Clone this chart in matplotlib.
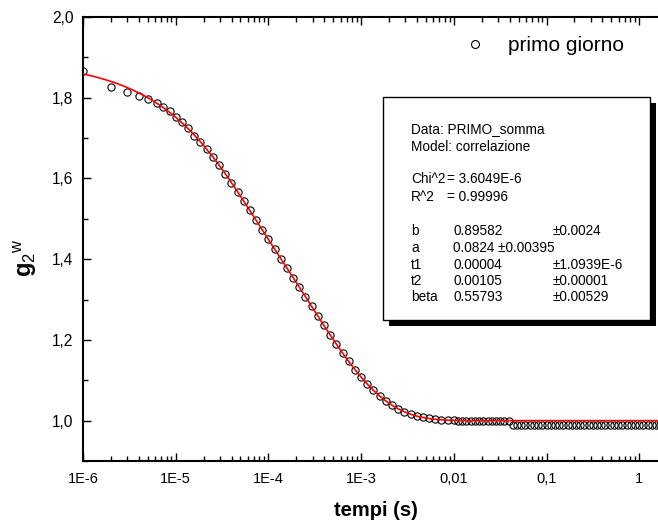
import matplotlib
matplotlib.use("Agg")
import matplotlib.pyplot as plt
from matplotlib.patches import Rectangle
from matplotlib.ticker import FixedLocator, FixedFormatter, LogLocator, MultipleLocator, FuncFormatter

plt.rcParams['font.family'] = ['Liberation Sans', 'DejaVu Sans']
plt.rcParams['mathtext.fontset'] = 'custom'
plt.rcParams['mathtext.rm'] = 'Liberation Sans'
plt.rcParams['mathtext.bf'] = 'Liberation Sans:bold'
plt.rcParams['mathtext.it'] = 'Liberation Sans:italic'

# ---------------- data ----------------
data_t = [1.0e-6, 2.0e-6, 3.0e-6, 4.0e-6, 5.0e-6,
          6.310e-6, 7.356e-6, 8.577e-6,
          1.000e-5, 1.166e-5, 1.359e-5, 1.585e-5, 1.848e-5, 2.154e-5, 2.512e-5, 2.929e-5,
          3.415e-5, 3.981e-5, 4.642e-5, 5.412e-5, 6.310e-5, 7.356e-5, 8.577e-5,
          1.000e-4, 1.166e-4, 1.359e-4, 1.585e-4, 1.848e-4, 2.154e-4, 2.512e-4, 2.929e-4,
          3.415e-4, 3.981e-4, 4.642e-4, 5.412e-4, 6.310e-4, 7.356e-4, 8.577e-4,
          1.000e-3, 1.166e-3, 1.359e-3, 1.585e-3, 1.848e-3, 2.154e-3, 2.512e-3, 2.929e-3,
          3.415e-3, 3.981e-3, 4.642e-3, 5.412e-3, 6.310e-3, 7.356e-3, 8.577e-3,
          1.000e-2, 1.110e-2, 1.233e-2, 1.369e-2, 1.520e-2, 1.688e-2, 1.874e-2, 2.081e-2,
          2.310e-2, 2.565e-2, 2.848e-2, 3.162e-2, 3.511e-2, 3.899e-2,
          4.329e-2, 4.806e-2, 5.337e-2, 5.926e-2, 6.579e-2, 7.305e-2, 8.111e-2, 9.006e-2,
          0.1000, 0.1110, 0.1233, 0.1369, 0.1520, 0.1688, 0.1874, 0.2081, 0.2310, 0.2565,
          0.2848, 0.3162, 0.3511, 0.3899, 0.4329, 0.4806, 0.5337, 0.5926, 0.6579, 0.7305,
          0.8111, 0.9006, 1.000, 1.110, 1.233, 1.369, 1.520, 1.688]
data_g = [1.867, 1.827, 1.814, 1.804, 1.796,
          1.788, 1.777, 1.766,
          1.753, 1.739, 1.724, 1.706, 1.690, 1.672, 1.653, 1.634,
          1.612, 1.589, 1.567, 1.544, 1.521, 1.496, 1.472,
          1.449, 1.425, 1.401, 1.378, 1.354, 1.331, 1.306, 1.283,
          1.259, 1.236, 1.212, 1.190, 1.167, 1.147, 1.126,
          1.108, 1.091, 1.075, 1.061, 1.049, 1.039, 1.030, 1.022,
          1.017, 1.012, 1.009, 1.006, 1.004, 1.002, 1.001,
          1.001, 1.000, 1.000, 1.000, 1.000, 1.000, 1.000, 1.000,
          1.000, 1.000, 1.000, 1.000, 1.000, 1.000,
          0.989, 0.989, 0.989, 0.989, 0.989, 0.989, 0.989, 0.989,
          0.989, 0.989, 0.989, 0.989, 0.989, 0.989, 0.989, 0.989, 0.989, 0.989,
          0.989, 0.989, 0.989, 0.989, 0.989, 0.989, 0.989, 0.989, 0.989, 0.989,
          0.989, 0.989, 0.989, 0.989, 0.989, 0.989, 0.989, 0.989]

fit_t = [1.000e-6, 1.166e-6, 1.359e-6, 1.585e-6, 1.848e-6, 2.154e-6, 2.512e-6, 2.929e-6,
         3.415e-6, 3.981e-6, 4.642e-6, 5.412e-6, 6.310e-6, 7.356e-6, 8.577e-6,
         1.000e-5, 1.166e-5, 1.359e-5, 1.585e-5, 1.848e-5, 2.154e-5, 2.512e-5, 2.929e-5,
         3.415e-5, 3.981e-5, 4.642e-5, 5.412e-5, 6.310e-5, 7.356e-5, 8.577e-5,
         1.000e-4, 1.166e-4, 1.359e-4, 1.585e-4, 1.848e-4, 2.154e-4, 2.512e-4, 2.929e-4,
         3.415e-4, 3.981e-4, 4.642e-4, 5.412e-4, 6.310e-4, 7.356e-4, 8.577e-4,
         1.000e-3, 1.166e-3, 1.359e-3, 1.585e-3, 1.848e-3, 2.154e-3, 2.512e-3, 2.929e-3,
         3.415e-3, 3.981e-3, 4.642e-3, 5.412e-3, 6.310e-3, 7.356e-3, 8.577e-3,
         1.000e-2, 1.166e-2, 1.359e-2, 1.585e-2, 0.1, 2.0]
fit_g = [1.8590, 1.8555, 1.8517, 1.8475, 1.8429, 1.8379, 1.8323, 1.8262, 1.8195, 1.8122,
         1.8042, 1.7954, 1.7858, 1.7753, 1.7639, 1.7515, 1.7380, 1.7234, 1.7076, 1.6907,
         1.6727, 1.6535, 1.6333, 1.6121, 1.5900, 1.5673, 1.5440, 1.5203, 1.4965, 1.4726,
         1.4488, 1.4250, 1.4014, 1.3778, 1.3542, 1.3305, 1.3068, 1.2829, 1.2592, 1.2355,
         1.2123, 1.1895, 1.1675, 1.1464, 1.1264, 1.1078, 1.0906, 1.0749, 1.0609, 1.0487,
         1.0381, 1.0292, 1.0218, 1.0159, 1.0112, 1.0077, 1.0051, 1.0033, 1.0020, 1.0012,
         1.0007, 1.0004, 1.0002, 1.0001, 1.0000, 1.0000]

x_ticks = [1e-6, 1e-5, 1e-4, 1e-3, 1e-2, 1e-1, 1]
x_ticklabels = ['1E-6', '1E-5', '1E-4', '1E-3', '0,01', '0,1', '1']
y_ticks = [1.0, 1.2, 1.4, 1.6, 1.8, 2.0]

legend_label = 'primo giorno'
box_lines = [
    ('Data: PRIMO_somma', None, None),
    ('Model: correlazione', None, None),
    ('Chi^2', '= 3.6049E-6', None),
    ('R^2', '= 0.99996', None),
    ('b', '0.89582', '\u00b10.0024'),
    ('a', '0.0824 \u00b10.00395', None),
    ('t1', '0.00004', '\u00b11.0939E-6'),
    ('t2', '0.00105', '\u00b10.00001'),
    ('beta', '0.55793', '\u00b10.00529'),
]

# ---------------- figure ----------------
W, H = 658, 529
fig = plt.figure(figsize=(W / 100, H / 100), dpi=100)

def fx(px):
    return px / W

def fy(py):
    return 1 - py / H

ax_left, ax_right, ax_top, ax_bottom = 83, 670, 17, 461
ax = fig.add_axes([fx(ax_left), fy(ax_bottom), (ax_right - ax_left) / W, (ax_bottom - ax_top) / H])

ax.plot(data_t, data_g, linestyle='none', marker='o', markersize=5.2,
        markerfacecolor='none', markeredgecolor='black', markeredgewidth=0.8,
        label=legend_label, zorder=2)
ax.plot(fit_t, fit_g, color='red', linewidth=1.2, zorder=3)

ax.set_xscale('log')
ax.set_xlim(1e-6, 10 ** ((ax_right - ax_left) / 92.7 - 6))
ax.set_ylim(0.9, 2.0)

ax.xaxis.set_major_locator(FixedLocator(x_ticks))
ax.xaxis.set_major_formatter(FixedFormatter(x_ticklabels))
ax.xaxis.set_minor_locator(LogLocator(base=10, subs=[2, 3, 4, 5, 6, 7, 8, 9], numticks=20))
ax.xaxis.set_minor_formatter(FuncFormatter(lambda v, p: ''))
ax.yaxis.set_major_locator(FixedLocator(y_ticks))
ax.yaxis.set_major_formatter(FuncFormatter(lambda v, p: f'{v:.1f}'.replace('.', ',')))
ax.yaxis.set_minor_locator(MultipleLocator(0.1))

for s in ax.spines.values():
    s.set_linewidth(1.5)

ax.tick_params(which='both', direction='in', top=True, right=True, width=1.0)
ax.tick_params(axis='x', labelsize=10.5)
ax.tick_params(axis='y', labelsize=11.2)
ax.tick_params(which='major', length=6)
ax.tick_params(which='minor', length=3.5)
ax.tick_params(axis='x', which='major', pad=8)
ax.tick_params(axis='y', which='major', pad=7)

ax.set_xlabel('tempi (s)', fontsize=14.5, fontweight='bold')
ax.xaxis.set_label_coords((376 - ax_left) / (ax_right - ax_left), -(510 - ax_bottom) / (ax_bottom - ax_top))
ax.xaxis.label.set_va('center')
ax.set_ylabel(r'$\mathbf{g}_{\mathrm{2}}{}^{\mathrm{w}}$', fontsize=17)
ax.yaxis.set_label_coords(-(ax_left - 25) / (ax_right - ax_left), (ax_bottom - 258) / (ax_bottom - ax_top))
ax.yaxis.label.set_va('center')

leg = ax.legend(loc='center left', bbox_to_anchor=(fx(464.6), fy(46)), bbox_transform=fig.transFigure,
                frameon=False, fontsize=15, handlelength=1.0, handletextpad=1.09,
                borderpad=0, borderaxespad=0, markerscale=1.1)

# ---------------- fit-result box ----------------
bx0, by0, bx1, by1 = 383, 97, 650, 320
sh = 6
fig.patches.append(Rectangle((fx(bx0 + sh), fy(by1 + sh)), (bx1 - bx0) / W, (by1 - by0) / H,
                             transform=fig.transFigure, facecolor='black', edgecolor='black',
                             linewidth=0, zorder=5))
fig.patches.append(Rectangle((fx(bx0), fy(by1)), (bx1 - bx0) / W, (by1 - by0) / H,
                             transform=fig.transFigure, facecolor='white', edgecolor='black',
                             linewidth=1.0, zorder=6))

line_y = [129, 147, 179, 197, 231, 248, 265, 281, 297]
col_x = [411, 453, 553]
for (c1, c2, c3), yy in zip(box_lines, line_y):
    fig.text(fx(col_x[0]), fy(yy), c1, fontsize=9.8, va='center', ha='left', zorder=7)
    if c2 is not None:
        x2 = 447 if c2.startswith('=') else col_x[1]
        fig.text(fx(x2), fy(yy), c2, fontsize=9.8, va='center', ha='left', zorder=7)
    if c3 is not None:
        fig.text(fx(col_x[2]), fy(yy), c3, fontsize=9.8, va='center', ha='left', zorder=7)

fig.savefig('out.png', dpi=100)
